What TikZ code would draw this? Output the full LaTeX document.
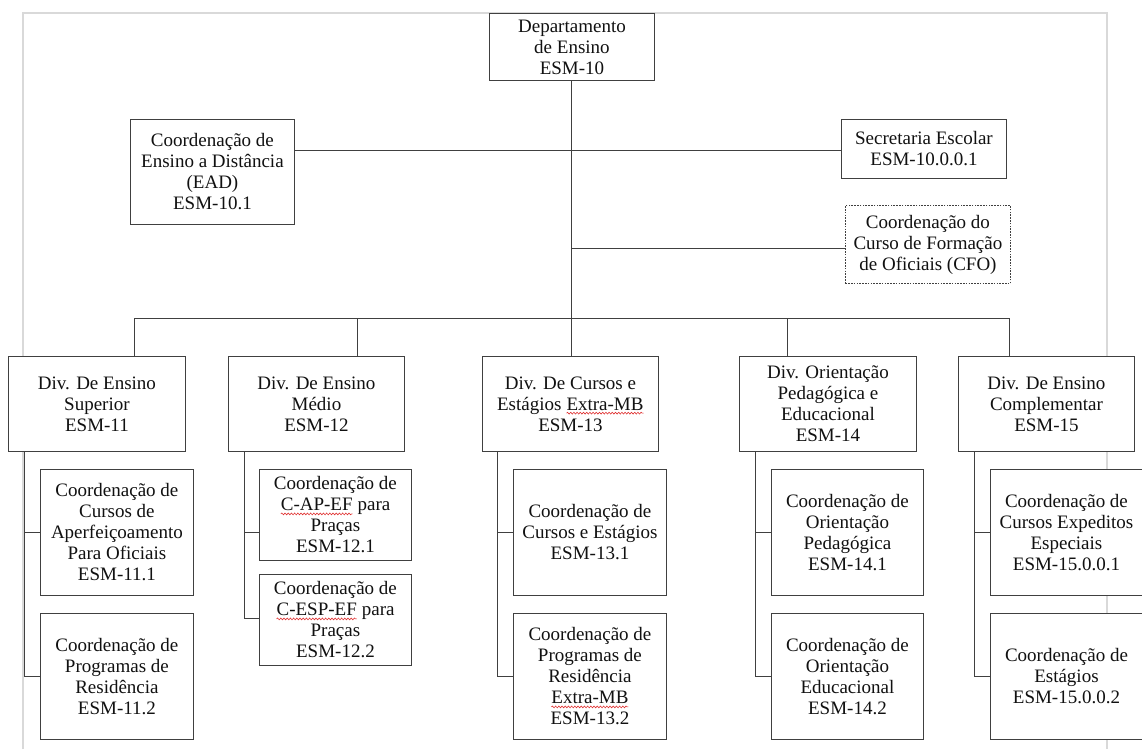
\documentclass[tikz,border=0pt]{standalone}
\usepackage{fontspec}
\setmainfont{Liberation Serif}
\usetikzlibrary{decorations.pathmorphing}
\definecolor{boxc}{HTML}{404040}
\definecolor{framec}{HTML}{D9D9D9}
\definecolor{txtc}{HTML}{111111}
\definecolor{squigc}{HTML}{E03030}
\newcommand\squig[1]{\begin{tikzpicture}[baseline=(sq.base),x=1pt,y=1pt]\node[inner sep=0pt,outer sep=0pt,draw=none,fill=none,anchor=base,minimum width=0pt,minimum height=0pt,solid] (sq) at (0,0) {#1};\draw[squigc,solid,line width=0.6pt,decorate,decoration={snake,amplitude=0.9pt,segment length=3.2pt}] ([yshift=-3pt]sq.base west) -- ([yshift=-3pt]sq.base east);\end{tikzpicture}}
\tikzset{
  bx/.style={draw=boxc, fill=white, line width=0.9pt, inner sep=0pt, align=center, anchor=north west,
    text=txtc, font=\fontsize{19}{21}\selectfont},
  dashbox/.style={bx, dash pattern=on 1.6pt off 1.2pt},
  conn/.style={draw=boxc, line width=0.9pt},
}
\begin{document}
\begin{tikzpicture}[x=1pt,y=-1pt]
\useasboundingbox (0,0) rectangle (1142,749);
\fill[white] (0,0) rectangle (1142,749);
% light frame
\draw[framec, line width=1.6pt] (23,749) -- (23,13) -- (1107,13) -- (1107,749);

% top level
\node[bx, minimum width=165pt, minimum height=67pt] (dept) at (489,13) {Departamento\\de Ensino\\ESM-10};
\node[bx, minimum width=164pt, minimum height=105pt] (ead) at (130,119) {Coordenação de\\Ensino a Distância\\(EAD)\\ESM-10.1};
\node[bx, minimum width=165pt, minimum height=59pt] (sec) at (841,119) {Secretaria Escolar\\ESM-10.0.0.1};
\node[dashbox, minimum width=165pt, minimum height=78pt] (cfo) at (845,205) {Coordenação do\\Curso de Formação\\de Oficiais (CFO)};

% divisions
\node[bx, minimum width=177pt, minimum height=95pt] (div1) at (8,356) {Div. De Ensino\\Superior\\ESM-11};
\node[bx, minimum width=176pt, minimum height=95pt] (div2) at (228,356) {Div. De Ensino\\Médio\\ESM-12};
\node[bx, minimum width=176pt, minimum height=95pt] (div3) at (482,356) {Div. De Cursos e\\Estágios \squig{Extra-MB}\\ESM-13};
\node[bx, minimum width=177pt, minimum height=95pt] (div4) at (739,356) {Div. Orientação\\Pedagógica e\\Educacional\\ESM-14};
\node[bx, minimum width=176pt, minimum height=95pt] (div5) at (958,356) {Div. De Ensino\\Complementar\\ESM-15};

% sub boxes
\node[bx, minimum width=153pt, minimum height=126pt] (s11) at (40,469) {Coordenação de\\Cursos de\\Aperfeiçoamento\\Para Oficiais\\ESM-11.1};
\node[bx, minimum width=153pt, minimum height=126pt] (s12) at (40,613) {Coordenação de\\Programas de\\Residência\\ESM-11.2};
\node[bx, minimum width=152pt, minimum height=91pt] (s21) at (259,469) {Coordenação de\\\squig{C-AP-EF} para\\Praças\\ESM-12.1};
\node[bx, minimum width=152pt, minimum height=91pt] (s22) at (259,574) {Coordenação de\\\squig{C-ESP-EF} para\\Praças\\ESM-12.2};
\node[bx, minimum width=153pt, minimum height=126pt] (s31) at (513,469) {Coordenação de\\Cursos e Estágios\\ESM-13.1};
\node[bx, minimum width=153pt, minimum height=126pt] (s32) at (513,613) {Coordenação de\\Programas de\\Residência\\\squig{Extra-MB}\\ESM-13.2};
\node[bx, minimum width=152pt, minimum height=126pt] (s41) at (771,469) {Coordenação de\\Orientação\\Pedagógica\\ESM-14.1};
\node[bx, minimum width=152pt, minimum height=126pt] (s42) at (771,613) {Coordenação de\\Orientação\\Educacional\\ESM-14.2};
\node[bx, minimum width=152pt, minimum height=126pt] (s51) at (990,469) {Coordenação de\\Cursos Expeditos\\Especiais\\ESM-15.0.0.1};
\node[bx, minimum width=152pt, minimum height=126pt] (s52) at (990,613) {Coordenação de\\Estágios\\ESM-15.0.0.2};

% bus coordinates
\coordinate (b1) at (134,318);
\coordinate (b2) at (357,318);
\coordinate (b3) at (571,318);
\coordinate (b4) at (787,318);
\coordinate (b5) at (1009,318);
\coordinate (h1) at (571,150);
\coordinate (h2) at (571,248);

% top connectors
\draw[conn] (dept.south -| b3) -- (b3);
\draw[conn] (ead.east |- h1) -- (sec.west |- h1);
\draw[conn] (h2) -- (cfo.west |- h2);
\draw[conn] (b1) -- (b5);
\draw[conn] (b1) -- (b1 |- div1.north);
\draw[conn] (b2) -- (b2 |- div2.north);
\draw[conn] (b3) -- (b3 |- div3.north);
\draw[conn] (b4) -- (b4 |- div4.north);
\draw[conn] (b5) -- (b5 |- div5.north);

% spines
\coordinate (sp1) at (24,451);
\coordinate (sp2) at (244,451);
\coordinate (sp3) at (497,451);
\coordinate (sp4) at (755,451);
\coordinate (sp5) at (974,451);
\coordinate (c21) at (259,532);
\coordinate (c22) at (259,618);

\draw[conn] (sp1) |- (s12.west);
\draw[conn] (s11.west) -- (s11.west -| sp1);
\draw[conn] (sp2) |- (c22);
\draw[conn] (c21) -- (c21 -| sp2);
\draw[conn] (sp3) |- (s32.west);
\draw[conn] (s31.west) -- (s31.west -| sp3);
\draw[conn] (sp4) |- (s42.west);
\draw[conn] (s41.west) -- (s41.west -| sp4);
\draw[conn] (sp5) |- (s52.west);
\draw[conn] (s51.west) -- (s51.west -| sp5);
\end{tikzpicture}
\end{document}
